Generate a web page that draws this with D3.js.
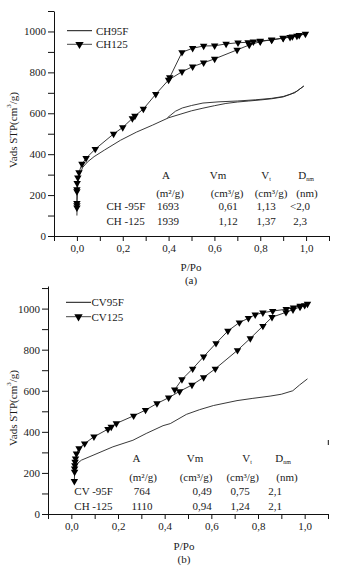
<!DOCTYPE html>
<html>
<head>
<meta charset="utf-8">
<script src="https://cdn.jsdelivr.net/npm/d3@7"></script>
<style>
    body { margin: 0; background: #fff; }
    text { font-family: "Liberation Serif", "Times New Roman", serif; fill: #1a1a1a; }
</style>
</head>
<body>
<div id="chart"></div>
<script>
// ---- data (P/Po, Vads) ----
const pressureTicks = d3.range(-1, 12).map(i => i / 10);
const pressureLabels = [0, 0.2, 0.4, 0.6, 0.8, 1.0];
const volumeTicks = d3.range(0, 1101, 100);
const volumeLabels = [0, 200, 400, 600, 800, 1000];

const ch95F = [[0.0,100],[0.001,180],[0.003,240],[0.006,275],[0.012,300],[0.025,335],[0.046,362],[0.075,388],
    [0.12,420],[0.19,468],[0.26,508],[0.33,542],[0.4,578],[0.45,595],[0.5,612],[0.55,625],[0.6,637],[0.65,648],
    [0.7,655],[0.75,660],[0.8,665],[0.85,671],[0.9,680],[0.93,692],[0.96,708],[0.99,733],
    [0.95,700],[0.9,682],[0.85,673],[0.78,666],[0.7,660],[0.62,656],[0.55,650],[0.5,638],[0.46,626],
    [0.43,610],[0.41,592],[0.395,578]];

const ch125 = [[0.0,138],[0.0,150],[0.0,160],[0.0,218],[0.0,228],[0.001,258],[0.004,285],[0.009,311],[0.022,352],
    [0.04,380],[0.08,425],[0.16,499],[0.2,531],[0.242,575],[0.253,587],[0.29,621],[0.344,693],[0.40,763],
    [0.4585,803],[0.505,828],[0.553,847],[0.601,866],[0.699,910],[0.752,934],[0.8,950],[0.85,960],[0.9,968],
    [0.94,975],[0.97,982],[0.997,988],
    [0.96,978],[0.93,972],[0.9,967],[0.85,958],[0.8,954],[0.77,950],[0.747,947],[0.703,945],[0.651,939],
    [0.601,930],[0.553,929],[0.505,918],[0.4585,898],[0.405,775]];

const cv95F = [[0.02,222],[0.025,245],[0.043,262],[0.093,286],[0.178,327],[0.264,359],[0.321,392],[0.393,430],
    [0.424,440],[0.493,485],[0.55,508],[0.609,528],[0.71,552],[0.778,563],[0.852,574],[0.9,583],[0.949,600],
    [0.978,628],[1.012,658]];

const cv125 = [[0.013,160],[0.014,205],[0.014,221],[0.015,237],[0.016,254],[0.018,270],[0.022,294],[0.033,319],
    [0.057,343],[0.097,376],[0.157,413],[0.171,424],[0.193,441],[0.267,478],[0.318,506],[0.367,538],[0.417,566],
    [0.464,597],[0.517,628],[0.567,665],[0.617,707],[0.712,797],[0.767,855],[0.821,915],[0.86,958],[0.92,982],
    [0.95,995],[0.98,1008],[1.0,1016],[1.012,1023],
    [0.981,1013],[0.952,1005],[0.921,997],[0.863,988],[0.821,980],[0.788,970],[0.759,953],[0.72,932],
    [0.671,891],[0.62,831],[0.567,766],[0.52,707],[0.474,655],[0.443,605]];

// table values
const tableHeads = [["A", ""], ["Vm", ""], ["V", "t"], ["D", "nm"]];
const tableUnits = ["(m\u00B2/g)", "(cm\u00B3/g)", "(cm\u00B3/g)", "(nm)"];
const tableNamesA = ["CH -95F", "CH -125"];
const tableRowsA = [["1693", "0,61", "1,13", "<2,0"], ["1939", "1,12", "1,37", "2,3"]];
const tableNamesB = ["CV -95F", "CH -125"];
const tableRowsB = [["764", "0,49", "0,75", "2,1"], ["1110", "0,94", "1,24", "2,1"]];

const commaFormat = d3.formatLocale({decimal: ",", thousands: ".", grouping: [3], currency: ["", ""]}).format(".1f");

class IsothermPanel {
    constructor(svg, config) {
        this.svg = svg;
        this.config = config;
        this.initVis();
    }

    initVis() {
        let vis = this;
        let c = vis.config;

        vis.g = vis.svg.append("g");

        vis.x = d3.scaleLinear().domain([-0.1, 1.1]).range([c.left, c.right]);
        vis.y = d3.scaleLinear().domain([0, c.yMax]).range([c.bottom, c.top]);

        // axes
        let xAxis = d3.axisBottom(vis.x)
            .tickValues(pressureTicks)
            .tickSize(5)
            .tickSizeOuter(0)
            .tickPadding(3)
            .tickFormat(d => pressureLabels.some(l => Math.abs(l - d) < 1e-6) ? commaFormat(d) : "");

        let yAxis = d3.axisLeft(vis.y)
            .tickValues(volumeTicks)
            .tickSize(6)
            .tickSizeOuter(0)
            .tickPadding(2)
            .tickFormat(d => volumeLabels.includes(d) ? d : "");

        vis.g.append("g")
            .attr("transform", `translate(0, ${c.bottom})`)
            .call(xAxis);

        vis.g.append("g")
            .attr("transform", `translate(${c.left}, 0)`)
            .call(yAxis);

        vis.g.selectAll(".domain, .tick line").attr("stroke", "#111").attr("stroke-width", 1);
        vis.g.selectAll(".tick text")
            .style("font-family", '"Liberation Serif", serif')
            .style("font-size", "11px")
            .attr("fill", "#1a1a1a");

        // axis titles
        vis.g.append("text")
            .attr("transform", `translate(12.5, ${c.yTitleY}) rotate(-90)`)
            .attr("text-anchor", "middle")
            .attr("dominant-baseline", "central")
            .style("font-size", "11px")
            .html("Vads STP(cm<tspan dy='-4' font-size='7'>3</tspan><tspan dy='4'>/g)</tspan>");

        vis.g.append("text")
            .attr("x", c.xTitleX)
            .attr("y", c.xTitleY)
            .attr("text-anchor", "middle")
            .style("font-size", "11px")
            .text("P/Po");

        vis.g.append("text")
            .attr("x", c.xTitleX)
            .attr("y", c.xTitleY + 13)
            .attr("text-anchor", "middle")
            .style("font-size", "11px")
            .text(c.caption);

        vis.drawSeries();
        vis.drawLegend();
        vis.drawTable();
    }

    drawSeries() {
        let vis = this;
        let c = vis.config;

        let line = d3.line()
            .x(d => vis.x(d[0]))
            .y(d => vis.y(d[1]));

        vis.g.append("path")
            .datum(c.plain)
            .attr("d", line)
            .attr("fill", "none")
            .attr("stroke", "#222")
            .attr("stroke-width", 0.9);

        vis.g.append("path")
            .datum(c.marked)
            .attr("d", line)
            .attr("fill", "none")
            .attr("stroke", "#222")
            .attr("stroke-width", 0.9);

        let tri = d3.symbol().type(d3.symbolTriangle).size(24);

        vis.g.selectAll("path.marker")
            .data(c.marked)
            .enter()
            .append("path")
            .attr("class", "marker")
            .attr("d", tri)
            .attr("transform", d => `translate(${vis.x(d[0])}, ${vis.y(d[1])}) rotate(180)`)
            .attr("fill", "#000");
    }

    drawLegend() {
        let vis = this;
        let c = vis.config;
        let lg = c.legend;

        vis.g.append("line")
            .attr("x1", lg.x0).attr("x2", lg.x1)
            .attr("y1", lg.y).attr("y2", lg.y)
            .attr("stroke", "#111").attr("stroke-width", 1);
        vis.g.append("text")
            .attr("x", lg.textX).attr("y", lg.y + 4)
            .style("font-size", "11px")
            .text(c.names[0]);

        vis.g.append("line")
            .attr("x1", lg.x0).attr("x2", lg.x1)
            .attr("y1", lg.y + lg.gap).attr("y2", lg.y + lg.gap)
            .attr("stroke", "#333").attr("stroke-width", 0.9);
        vis.g.append("path")
            .attr("d", d3.symbol().type(d3.symbolTriangle).size(30))
            .attr("transform", `translate(${(lg.x0 + lg.x1) / 2}, ${lg.y + lg.gap}) rotate(180)`)
            .attr("fill", "#000");
        vis.g.append("text")
            .attr("x", lg.textX).attr("y", lg.y + lg.gap + 4)
            .style("font-size", "11px")
            .text(c.names[1]);
    }

    drawTable() {
        let vis = this;
        let t = vis.config.table;

        // header row with subscripts
        tableHeads.forEach((h, i) => {
            let txt = vis.g.append("text")
                .attr("x", t.headX[i])
                .attr("y", t.rowY[0])
                .attr("text-anchor", "middle")
                .style("font-size", "11px");
            txt.append("tspan").text(h[0]);
            if (h[1]) {
                txt.append("tspan").attr("dy", 2).style("font-size", "6px").text(h[1]);
            }
        });

        tableUnits.forEach((u, i) => {
            vis.g.append("text")
                .attr("x", t.unitX[i])
                .attr("y", t.rowY[1])
                .attr("text-anchor", "middle")
                .style("font-size", "11px")
                .text(u);
        });

        t.names.forEach((name, r) => {
            vis.g.append("text")
                .attr("x", t.nameX)
                .attr("y", t.rowY[2 + r])
                .style("font-size", "11px")
                .text(name);

            t.rows[r].forEach((val, i) => {
                vis.g.append("text")
                    .attr("x", t.valueX[i])
                    .attr("y", t.rowY[2 + r])
                    .attr("text-anchor", "middle")
                    .style("font-size", "11px")
                    .text(val);
            });
        });
    }
}

let svg = d3.select("#chart").append("svg")
    .attr("width", 356)
    .attr("height", 573);

new IsothermPanel(svg, {
    left: 54, right: 329, top: 11, bottom: 236, yMax: 1100,
    plain: ch95F, marked: ch125, names: ["CH95F", "CH125"],
    legend: {x0: 67, x1: 92, y: 30.7, gap: 13.6, textX: 96},
    yTitleY: 130, xTitleX: 191, xTitleY: 271, caption: "(a)",
    table: {
        headX: [166, 218, 266, 306], unitX: [170, 227, 271, 307], valueX: [168, 228, 266, 300],
        nameX: 106.5, rowY: [179, 196.5, 210, 224.5],
        names: tableNamesA, rows: tableRowsA
    }
});

new IsothermPanel(svg, {
    left: 48, right: 328, top: 286, bottom: 514, yMax: 1110,
    plain: cv95F, marked: cv125, names: ["CV95F", "CV125"],
    legend: {x0: 66, x1: 91, y: 302.3, gap: 14.4, textX: 91.5},
    yTitleY: 408, xTitleX: 184, xTitleY: 550, caption: "(b)",
    table: {
        headX: [136.5, 195, 247, 283], unitX: [143, 196, 242.7, 287], valueX: [142, 202, 240, 275],
        nameX: 74.3, rowY: [462, 480.5, 495, 509.5],
        names: tableNamesB, rows: tableRowsB
    }
});

// small stray mark at the right of panel (b)
svg.append("line")
    .attr("x1", 328.3).attr("x2", 328.3)
    .attr("y1", 440).attr("y2", 445)
    .attr("stroke", "#111");
</script>
</body>
</html>
